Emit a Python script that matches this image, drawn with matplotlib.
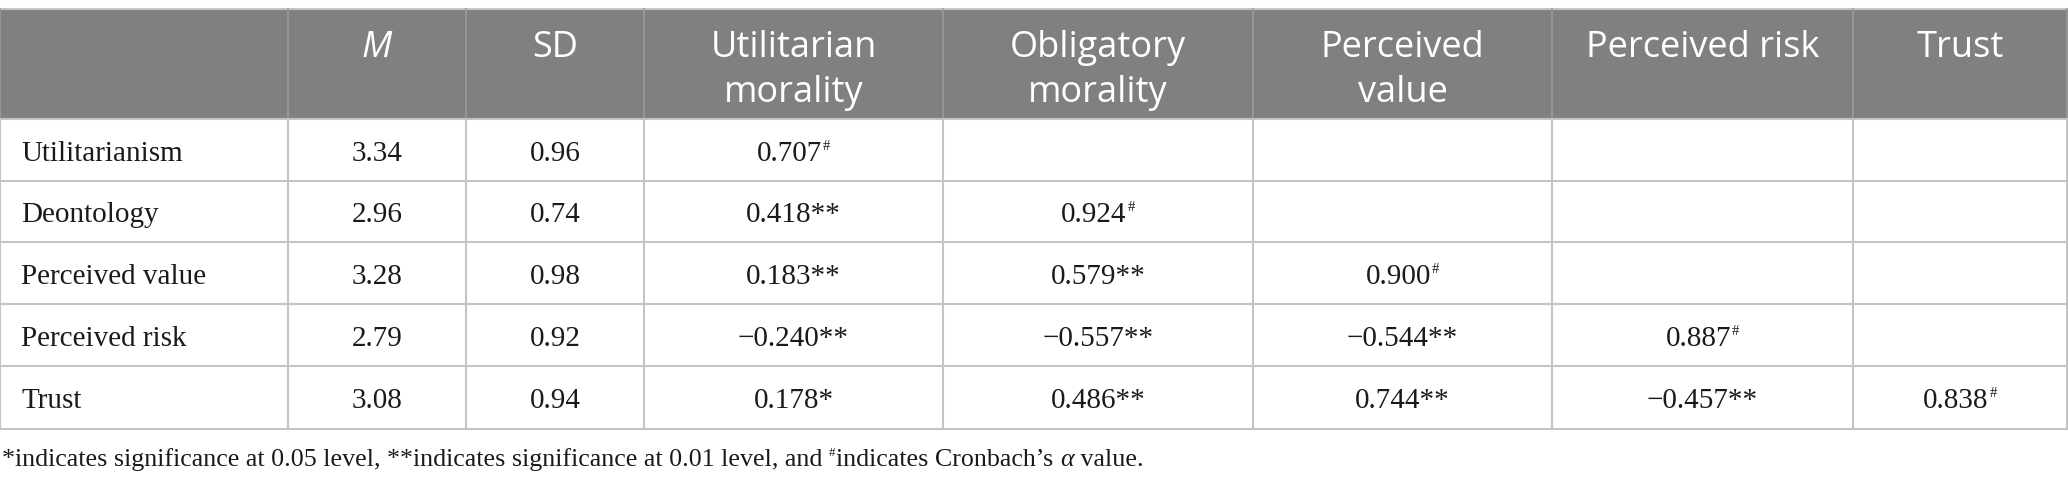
import matplotlib
matplotlib.use("Agg")
import matplotlib.pyplot as plt

# table content
col_headers = [["M"], ["SD"], ["Utilitarian", "morality"], ["Obligatory", "morality"],
               ["Perceived", "value"], ["Perceived risk"], ["Trust"]]
row_labels = ["Utilitarianism", "Deontology", "Perceived value", "Perceived risk", "Trust"]
means = ["3.34", "2.96", "3.28", "2.79", "3.08"]
sds = ["0.96", "0.74", "0.98", "0.92", "0.94"]
corr = [
    [("0.707", "#")],
    [("0.418**", ""), ("0.924", "#")],
    [("0.183**", ""), ("0.579**", ""), ("0.900", "#")],
    [("\u22120.240**", ""), ("\u22120.557**", ""), ("\u22120.544**", ""), ("0.887", "#")],
    [("0.178*", ""), ("0.486**", ""), ("0.744**", ""), ("\u22120.457**", ""), ("0.838", "#")],
]
footnote = ["*indicates significance at 0.05 level, **indicates significance at 0.01 level, and ",
            "#", "indicates Cronbach\u2019s ", "\u03b1", " value."]

# layout in pixels
W, H = 2068, 487
col_x = [0, 288, 466, 644, 943, 1253, 1552, 1853, 2067]
row_y = [9, 119, 180.5, 242, 304, 366, 429]
head_bg = "#808080"
grid_c = "#c4c4c4"
serif = ["Liberation Serif", "DejaVu Serif"]
sans = ["Open Sans", "DejaVu Sans"]
body_fs = 21
head_fs = 26

fig = plt.figure(figsize=(W / 100, H / 100), dpi=100)
ax = fig.add_axes([0, 0, 1, 1])
ax.set_xlim(0, W)
ax.set_ylim(H, 0)
ax.axis("off")
renderer = fig.canvas.get_renderer()

def width(t):
    return t.get_window_extent(renderer=renderer).width

def put(cx, y, main, sup, fs):
    t = ax.text(cx, y, main, ha="left", va="baseline", fontsize=fs, family=serif, color="#1a1a1a")
    w = width(t)
    ws = 0
    s = None
    if sup:
        s = ax.text(0, y - 11, sup, ha="left", va="baseline", fontsize=fs * 0.5,
                    family=serif, color="#1a1a1a")
        ws = width(s) + 1
    x0 = cx - (w + ws) / 2
    t.set_x(x0)
    if s is not None:
        s.set_x(x0 + w + 1)

# header background
ax.add_patch(plt.Rectangle((0, row_y[0]), W, row_y[1] - row_y[0], color=head_bg, lw=0, zorder=0))

# grid lines
for y in row_y:
    ax.plot([0, W], [y, y], color=grid_c, lw=1.5, zorder=2, solid_capstyle="butt")
for x in col_x:
    ax.plot([x, x], [row_y[0], row_y[1]], color="#9a9a9a", lw=1.2, zorder=2)
    ax.plot([x, x], [row_y[1], row_y[-1]], color=grid_c, lw=1.5, zorder=2)

# header text
for j, lines in enumerate(col_headers):
    cx = (col_x[j + 1] + col_x[j + 2]) / 2
    for k, line in enumerate(lines):
        ax.text(cx, 57 + 45 * k, line, ha="center", va="baseline", fontsize=head_fs,
                family=sans, color="white", style="italic" if line == "M" else "normal")

# body
for i, lab in enumerate(row_labels):
    base = row_y[i + 1] + 41.7
    ax.text(21, base, lab, ha="left", va="baseline", fontsize=body_fs, family=serif, color="#1a1a1a")
    put((col_x[1] + col_x[2]) / 2, base, means[i], "", body_fs)
    put((col_x[2] + col_x[3]) / 2, base, sds[i], "", body_fs)
    for j, (val, sup) in enumerate(corr[i]):
        put((col_x[j + 3] + col_x[j + 4]) / 2, base, val, sup, body_fs)

# footnote
x = 2
fb = 466
foot_fs = 18.7
for k, piece in enumerate(footnote):
    if k == 1:
        t = ax.text(x, fb - 10, piece, ha="left", va="baseline", fontsize=foot_fs * 0.5,
                    family=serif, color="#1a1a1a")
    else:
        t = ax.text(x, fb, piece, ha="left", va="baseline", fontsize=foot_fs,
                    family=serif, color="#1a1a1a", style="italic" if k == 3 else "normal")
    x += width(t) + (1 if k == 1 else 0)

fig.savefig("out.png", dpi=100)
